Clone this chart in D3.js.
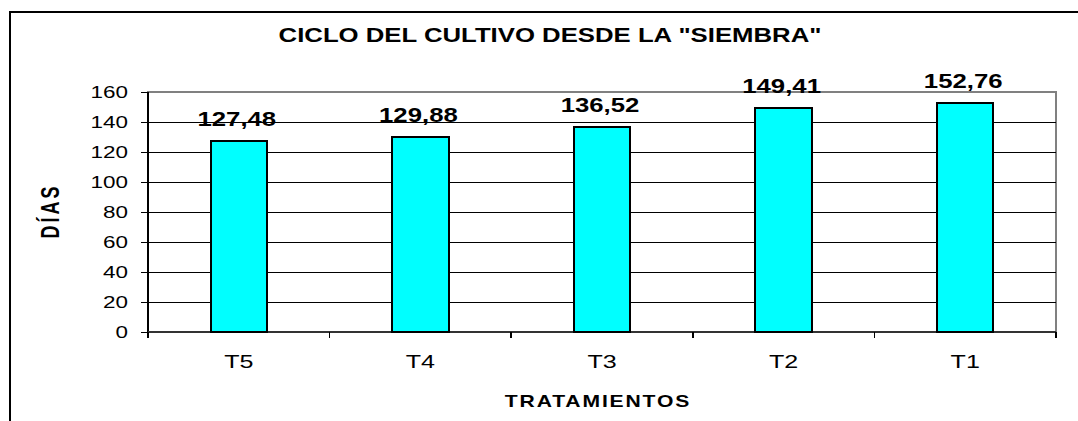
<!DOCTYPE html>
<html>
<head>
<meta charset="utf-8">
<script src="https://cdn.jsdelivr.net/npm/d3@7"></script>
<style>
  body { margin: 0; background: #fff; }
  text { font-family: Arial, "Liberation Sans", sans-serif; fill: #000; }
  line, rect, path { shape-rendering: crispEdges; }
</style>
</head>
<body>
<div id="chart"></div>
<script>
// data
const tratamientos = ["T5", "T4", "T3", "T2", "T1"];
const dias = [127.48, 129.88, 136.52, 149.41, 152.76];
const etiquetas = ["127,48", "129,88", "136,52", "149,41", "152,76"];
const yTicks = [0, 20, 40, 60, 80, 100, 120, 140, 160];

const width = 1078;
const height = 421;
const sx = 1.32; // the original text looks stretched sideways

const plot = { left: 148, right: 1056, top: 92, bottom: 332 };

const svg = d3.select("#chart")
    .append("svg")
    .attr("width", width)
    .attr("height", height);

// outer frame (runs off the picture to the right and bottom)
svg.append("rect")
    .attr("x", 10)
    .attr("y", 12)
    .attr("width", 1200)
    .attr("height", 500)
    .attr("fill", "none")
    .attr("stroke", "#000")
    .attr("stroke-width", 2);

const x = d3.scaleBand()
    .domain(tratamientos)
    .range([plot.left, plot.right])
    .padding(0);

const y = d3.scaleLinear()
    .domain([0, 160])
    .range([plot.bottom, plot.top]);

// stretched text helper
function label(parent, px, py, str, size, weight, anchor, extra) {
    return parent.append("text")
        .attr("transform", `translate(${px},${py}) scale(${sx},1)` + (extra || ""))
        .attr("text-anchor", anchor)
        .style("font-size", size + "px")
        .style("font-weight", weight)
        .text(str);
}

// plot area border (gray)
svg.append("rect")
    .attr("x", plot.left)
    .attr("y", plot.top)
    .attr("width", plot.right - plot.left)
    .attr("height", plot.bottom - plot.top)
    .attr("fill", "none")
    .attr("stroke", "#808080")
    .attr("stroke-width", 1.5);

// gridlines
svg.selectAll(".grid")
    .data(yTicks.slice(1, -1))
    .enter()
    .append("line")
    .attr("x1", plot.left)
    .attr("x2", plot.right)
    .attr("y1", d => y(d))
    .attr("y2", d => y(d))
    .attr("stroke", "#000")
    .attr("stroke-width", 1);

// y axis
const yAxis = svg.append("g")
    .attr("transform", `translate(${plot.left},0)`)
    .call(d3.axisLeft(y).tickValues(yTicks).tickSize(7).tickFormat(""));
yAxis.select(".domain").attr("stroke-width", 2).attr("d", `M0,${plot.top}V${plot.bottom + 6}`);
yAxis.selectAll(".tick line").attr("stroke-width", 1.5);

yTicks.forEach(t => {
    label(svg, 128, y(t) + 6, t, 17, "normal", "end");
});

// x axis, ticks sit on the category boundaries
const xAxis = svg.append("g")
    .attr("transform", `translate(0,${plot.bottom})`)
    .call(d3.axisBottom(x).tickSize(0).tickFormat(""));
xAxis.select(".domain").attr("stroke", "#333").attr("stroke-width", 2).attr("d", `M${plot.left},0H${plot.right}`);

const bounds = tratamientos.map(d => x(d) + x.bandwidth()).concat([x(tratamientos[0])]);
svg.selectAll(".xtick")
    .data(bounds)
    .enter()
    .append("line")
    .attr("x1", d => d)
    .attr("x2", d => d)
    .attr("y1", plot.bottom)
    .attr("y2", plot.bottom + 6)
    .attr("stroke", "#000")
    .attr("stroke-width", 1.5);

tratamientos.forEach(t => {
    label(svg, x(t) + x.bandwidth() / 2, 368, t, 19, "normal", "middle");
});

// bars
const barW = x.bandwidth() * 0.31;
svg.selectAll(".bar")
    .data(dias)
    .enter()
    .append("rect")
    .attr("class", "bar")
    .attr("x", (d, i) => x(tratamientos[i]) + (x.bandwidth() - barW) / 2)
    .attr("y", d => y(d))
    .attr("width", barW)
    .attr("height", d => y(0) - y(d))
    .attr("fill", "#00FFFF")
    .attr("stroke", "#000")
    .attr("stroke-width", 2);

// value labels
dias.forEach((d, i) => {
    label(svg, x(tratamientos[i]) + x.bandwidth() / 2 - 2, y(d) - 15, etiquetas[i], 19.5, "bold", "middle");
});

// titles
label(svg, 550, 42, "CICLO DEL CULTIVO DESDE LA \"SIEMBRA\"", 19.5, "bold", "middle");
label(svg, 598, 407, "TRATAMIENTOS", 16, "bold", "middle").style("letter-spacing", "1.4px");
svg.append("text")
    .attr("transform", `translate(59,211) scale(1.45,1) rotate(-90)`)
    .attr("text-anchor", "middle")
    .style("font-size", "18px")
    .style("font-weight", "bold")
    .style("letter-spacing", "3px")
    .text("DÍAS");
</script>
</body>
</html>
